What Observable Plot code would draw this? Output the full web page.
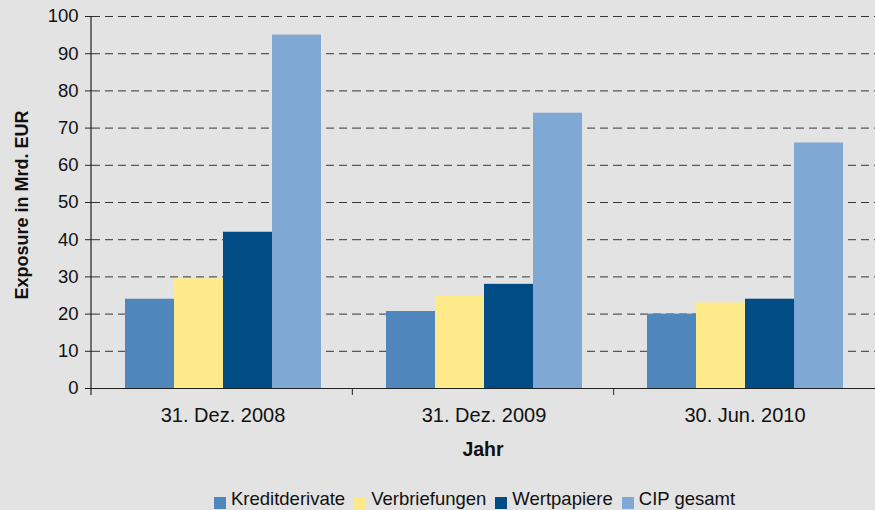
<!DOCTYPE html>
<html><head><meta charset="utf-8">
<script src="https://cdn.jsdelivr.net/npm/d3@7"></script>
<script src="https://cdn.jsdelivr.net/npm/@observablehq/plot@0.6"></script>
<style>
body{margin:0;background:#e3e3e3;font-family:"Liberation Sans",Arial,sans-serif;width:875px;height:510px;overflow:hidden;position:relative}
#legend{position:absolute;top:490px;left:214px;display:flex;align-items:flex-start;font-size:18.5px;line-height:18.5px;color:#111;white-space:nowrap}
.item{display:flex;align-items:flex-start;margin-right:9px}
.sw{width:12px;height:12px;margin-right:5px;margin-top:7px}
</style></head>
<body>
<div id="chart"></div>
<div id="legend"></div>
<script>
const categories = ["31. Dez. 2008", "31. Dez. 2009", "30. Jun. 2010"];
const series = ["Kreditderivate", "Verbriefungen", "Wertpapiere", "CIP gesamt"];
const kreditderivate = [24, 20.7, 20];
const verbriefungen = [29.5, 25, 23];
const wertpapiere = [42, 28, 24];
const cipGesamt = [95, 74, 66];
const colors = ["#4f87bd", "#feea8b", "#024c86", "#7fa8d5"];
const yTicks = [0, 10, 20, 30, 40, 50, 60, 70, 80, 90, 100];

const valuesBySeries = [kreditderivate, verbriefungen, wertpapiere, cipGesamt];
const data = [];
categories.forEach((c, i) => series.forEach((s, j) => data.push({cat: c, series: s, value: valuesBySeries[j][i]})));

const plot = Plot.plot({
  width: 875, height: 480,
  marginTop: 16, marginBottom: 92, marginLeft: 91, marginRight: 0,
  style: {background: "transparent", fontFamily: "'Liberation Sans', Arial, sans-serif", fontSize: "15px", color: "#111"},
  fx: {domain: categories, padding: 0, label: null},
  x: {domain: series, paddingInner: 0, paddingOuter: 0.66, axis: null},
  y: {domain: [0, 100], label: null},
  color: {domain: series, range: colors},
  marks: [
    Plot.gridY(yTicks, {stroke: "#222", strokeOpacity: 0.9, strokeDasharray: "8,5"}),
    Plot.barY(data, {fx: "cat", x: "series", y: "value", fill: "series"}),
    Plot.ruleY([0], {stroke: "#222", strokeWidth: 1.2}),
    Plot.axisY(yTicks, {tickSize: 7, tickPadding: 7, label: null, stroke: "#222", fill: "#111"}),
    Plot.axisFx({anchor: "bottom", tickSize: 0, tickPadding: 19.5, label: null, fill: "#111"})
  ]
});
document.getElementById("chart").appendChild(plot);

const svg = d3.select(plot);
svg.selectAll('g[aria-label="y-axis tick label"] text').style("font-size", "18.5px");
svg.selectAll('g[aria-label="fx-axis tick label"] text').style("font-size", "20px");

// axis line, group boundary ticks, axis titles (positions from Plot scales)
const y = plot.scale("y");
const fx = plot.scale("fx");
const y0 = y.apply(0), y100 = y.apply(100);
const left = fx.range[0], right = fx.range[1];
const step = (right - left) / categories.length;
svg.append("line").attr("x1", left).attr("x2", left).attr("y1", y100).attr("y2", y0 + 7).attr("stroke", "#222").attr("stroke-width", 1.2);
d3.range(1, categories.length).forEach(k => {
  const bx = left + k * step;
  svg.append("line").attr("x1", bx).attr("x2", bx).attr("y1", y0).attr("y2", y0 + 7).attr("stroke", "#222");
});
svg.append("text").attr("x", (left + right) / 2).attr("y", y0 + 68).attr("text-anchor", "middle")
  .attr("font-weight", "bold").style("font-size", "19.5px").attr("fill", "#111").text("Jahr");
svg.append("text").attr("transform", `translate(28,${(y0 + y100) / 2 + 3}) rotate(-90)`).attr("text-anchor", "middle")
  .attr("font-weight", "bold").style("font-size", "18px").attr("fill", "#111").text("Exposure in Mrd. EUR");

const legend = document.getElementById("legend");
series.forEach((s, i) => {
  const it = document.createElement("div"); it.className = "item";
  const sw = document.createElement("div"); sw.className = "sw"; sw.style.background = colors[i];
  const t = document.createElement("span"); t.textContent = s;
  it.appendChild(sw); it.appendChild(t); legend.appendChild(it);
});
</script>
</body></html>
